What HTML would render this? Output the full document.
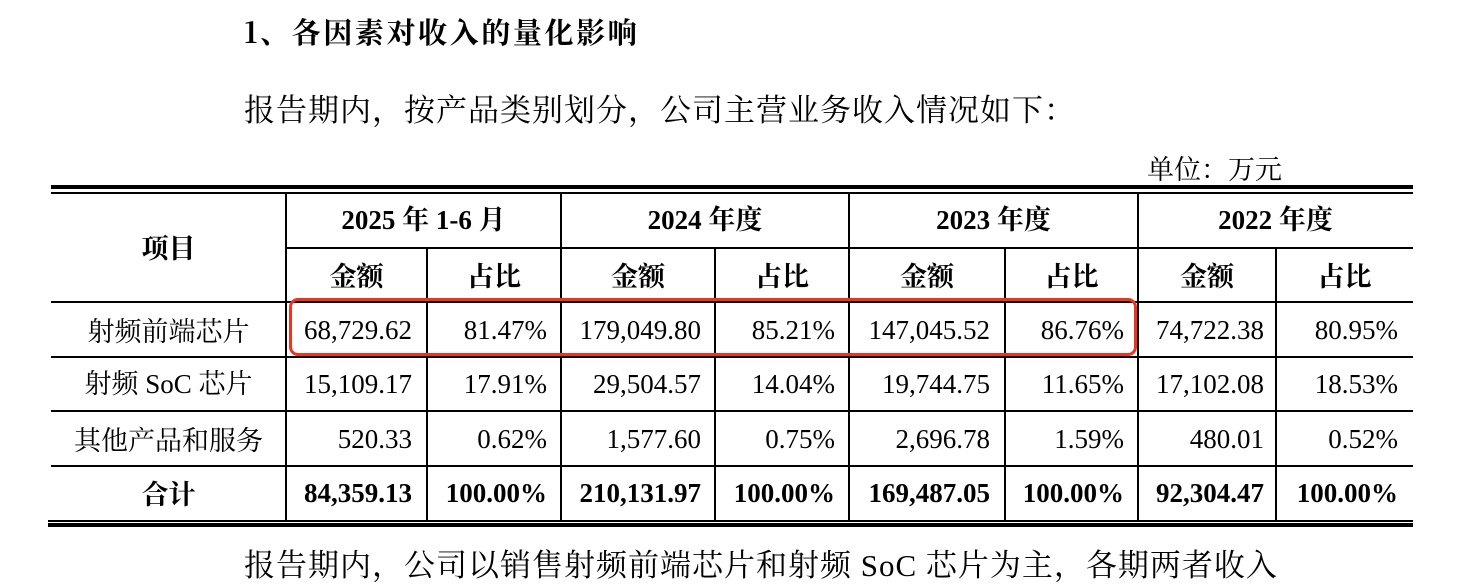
<!DOCTYPE html>
<html><head><meta charset="utf-8"><style>
body{margin:0;width:1460px;height:556px;background:#fff;position:relative;overflow:hidden;font-family:"Liberation Serif","Noto Serif CJK SC",serif;color:#000}
.a{position:absolute;white-space:nowrap}
.z{font-family:"Noto Serif CJK SC",serif}
.h{position:absolute;background:#000}
.c{position:absolute;font-size:27px;line-height:54px;height:54px;white-space:nowrap}
.r{text-align:right}
.m{text-align:center}
.b{font-weight:bold}
</style></head><body>
<div class="a b z" style="left:244px;top:12px;font-size:29px;line-height:40px;letter-spacing:2.6px">1、各因素对收入的量化影响</div>
<div class="a z" style="left:244px;top:87px;font-size:31px;line-height:42px;letter-spacing:1px">报告期内，按产品类别划分，公司主营业务收入情况如下：</div>
<div class="a z" style="left:1147px;top:150px;font-size:27px;line-height:36px">单位：万元</div>
<div class="h" style="left:51px;top:185px;width:1362px;height:4px"></div>
<div class="h" style="left:51px;top:192px;width:1362px;height:2px"></div>
<div class="h" style="left:286px;top:247px;width:1127px;height:2px"></div>
<div class="h" style="left:51px;top:301px;width:1362px;height:2px"></div>
<div class="h" style="left:51px;top:356px;width:1362px;height:2px"></div>
<div class="h" style="left:51px;top:410px;width:1362px;height:2px"></div>
<div class="h" style="left:51px;top:465px;width:1362px;height:2px"></div>
<div class="h" style="left:48px;top:520px;width:1365px;height:2px"></div>
<div class="h" style="left:48px;top:523px;width:1365px;height:4px"></div>
<div class="h" style="left:285px;top:193px;width:2px;height:328px"></div>
<div class="h" style="left:560px;top:193px;width:2px;height:328px"></div>
<div class="h" style="left:848px;top:193px;width:2px;height:328px"></div>
<div class="h" style="left:1137px;top:193px;width:2px;height:328px"></div>
<div class="h" style="left:426px;top:248px;width:2px;height:273px"></div>
<div class="h" style="left:714px;top:248px;width:2px;height:273px"></div>
<div class="h" style="left:1004px;top:248px;width:2px;height:273px"></div>
<div class="h" style="left:1275px;top:248px;width:2px;height:273px"></div>
<div style="position:absolute;left:289px;top:298px;width:842px;height:52px;border:3px solid #f2321c;border-radius:9px"></div>

<div class="c m b z" style="left:51px;top:220px;width:235px">项目</div>
<div class="c m b" style="left:286px;top:193px;width:275px">2025 年 1-6 月</div>
<div class="c m b" style="left:561px;top:193px;width:288px">2024 年度</div>
<div class="c m b" style="left:849px;top:193px;width:289px">2023 年度</div>
<div class="c m b" style="left:1138px;top:193px;width:275px">2022 年度</div>
<div class="c m b z" style="left:286px;top:248px;width:141px">金额</div>
<div class="c m b z" style="left:427px;top:248px;width:134px">占比</div>
<div class="c m b z" style="left:561px;top:248px;width:154px">金额</div>
<div class="c m b z" style="left:715px;top:248px;width:134px">占比</div>
<div class="c m b z" style="left:849px;top:248px;width:156px">金额</div>
<div class="c m b z" style="left:1005px;top:248px;width:133px">占比</div>
<div class="c m b z" style="left:1138px;top:248px;width:138px">金额</div>
<div class="c m b z" style="left:1276px;top:248px;width:137px">占比</div>

<div class="c m z" style="left:51px;top:303px;width:235px">射频前端芯片</div>
<div class="c m" style="left:51px;top:357px;width:235px">射频 SoC 芯片</div>
<div class="c m z" style="left:51px;top:412px;width:235px">其他产品和服务</div>
<div class="c m b z" style="left:51px;top:466px;width:235px">合计</div>

<div class="c r" style="left:286px;top:303px;width:126px">68,729.62</div>
<div class="c r" style="left:427px;top:303px;width:120px">81.47%</div>
<div class="c r" style="left:561px;top:303px;width:140px">179,049.80</div>
<div class="c r" style="left:715px;top:303px;width:120px">85.21%</div>
<div class="c r" style="left:849px;top:303px;width:141px">147,045.52</div>
<div class="c r" style="left:1005px;top:303px;width:119px">86.76%</div>
<div class="c r" style="left:1138px;top:303px;width:126px">74,722.38</div>
<div class="c r" style="left:1276px;top:303px;width:122px">80.95%</div>

<div class="c r" style="left:286px;top:357px;width:126px">15,109.17</div>
<div class="c r" style="left:427px;top:357px;width:120px">17.91%</div>
<div class="c r" style="left:561px;top:357px;width:140px">29,504.57</div>
<div class="c r" style="left:715px;top:357px;width:120px">14.04%</div>
<div class="c r" style="left:849px;top:357px;width:141px">19,744.75</div>
<div class="c r" style="left:1005px;top:357px;width:119px">11.65%</div>
<div class="c r" style="left:1138px;top:357px;width:126px">17,102.08</div>
<div class="c r" style="left:1276px;top:357px;width:122px">18.53%</div>

<div class="c r" style="left:286px;top:412px;width:126px">520.33</div>
<div class="c r" style="left:427px;top:412px;width:120px">0.62%</div>
<div class="c r" style="left:561px;top:412px;width:140px">1,577.60</div>
<div class="c r" style="left:715px;top:412px;width:120px">0.75%</div>
<div class="c r" style="left:849px;top:412px;width:141px">2,696.78</div>
<div class="c r" style="left:1005px;top:412px;width:119px">1.59%</div>
<div class="c r" style="left:1138px;top:412px;width:126px">480.01</div>
<div class="c r" style="left:1276px;top:412px;width:122px">0.52%</div>

<div class="c r b" style="left:286px;top:466px;width:126px">84,359.13</div>
<div class="c r b" style="left:427px;top:466px;width:120px">100.00%</div>
<div class="c r b" style="left:561px;top:466px;width:140px">210,131.97</div>
<div class="c r b" style="left:715px;top:466px;width:120px">100.00%</div>
<div class="c r b" style="left:849px;top:466px;width:141px">169,487.05</div>
<div class="c r b" style="left:1005px;top:466px;width:119px">100.00%</div>
<div class="c r b" style="left:1138px;top:466px;width:126px">92,304.47</div>
<div class="c r b" style="left:1276px;top:466px;width:122px">100.00%</div>

<div class="a" style="left:244px;top:546px;font-size:31px;line-height:40px;letter-spacing:1px">报告期内，公司以销售射频前端芯片和射频 SoC 芯片为主，各期两者收入</div>
</body></html>
